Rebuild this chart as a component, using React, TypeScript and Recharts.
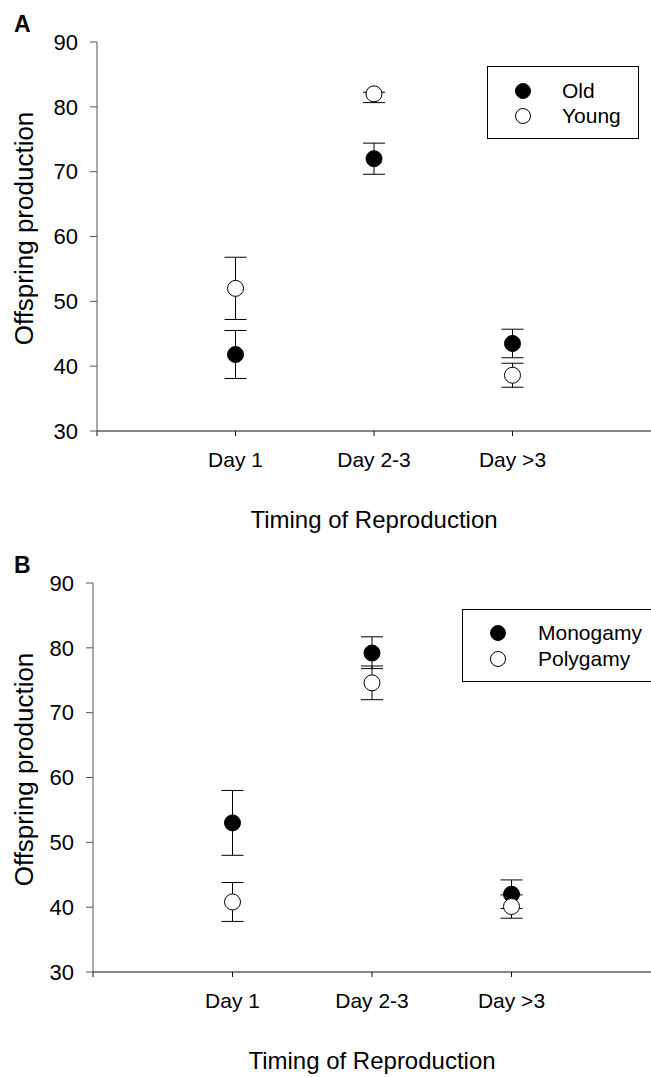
import { ScatterChart, Scatter, XAxis, YAxis, ErrorBar, Legend, Label } from "recharts"

const categories = ["Day 1", "Day 2-3", "Day >3"]
const yTicks = [30, 40, 50, 60, 70, 80, 90]

// panel A (lower / upper half of the error bars)
const oldMean = [41.8, 72.0, 43.5]
const oldLow = [3.7, 2.4, 2.2]
const oldHigh = [3.7, 2.4, 2.2]
const youngMean = [52.0, 82.0, 38.6]
const youngLow = [4.8, 1.35, 1.85]
const youngHigh = [4.8, 0.25, 1.85]

// panel B
const monoMean = [53.0, 79.2, 42.0]
const monoLow = [5.0, 2.4, 2.2]
const monoHigh = [5.0, 2.5, 2.2]
const polyMean = [40.8, 74.6, 40.1]
const polyLow = [3.0, 2.6, 1.8]
const polyHigh = [3.0, 2.6, 1.8]

const FONT = "'Liberation Sans', Arial, sans-serif"

const toRows = (means: number[], low: number[], high: number[]) =>
    means.map((m, i) => ({ x: i + 1, y: m, err: [low[i], high[i]] }))

const dot = (fill: string) => (props: any) => (
    <circle cx={props.cx} cy={props.cy} r={8} fill={fill} stroke="#000" strokeWidth={1} />
)
const noDot = () => <g />

function PanelLegend({ names, box }: { names: string[]; box: any }) {
    return (
        <div
            style={{
                width: box.width,
                height: box.height,
                border: "1px solid #000",
                boxSizing: "border-box",
                background: "#fff",
                fontFamily: FONT,
                fontSize: 21,
                color: "#000",
                paddingTop: box.padTop,
            }}
        >
            {names.map((n, i) => (
                <div key={n} style={{ display: "flex", alignItems: "center", height: box.rowH }}>
                    <svg width={box.markerW} height={18} style={{ flex: "none" }}>
                        <circle cx={box.markerW - 9} cy={9} r={7.5} fill={i === 0 ? "#000" : "#fff"} stroke="#000" />
                    </svg>
                    <span style={{ marginLeft: box.textGap }}>{n}</span>
                </div>
            ))}
        </div>
    )
}

function Panel({ letter, names, first, second, axisLeft, top, height, legendBox }: any) {
    const margin = { top, right: 0, left: axisLeft - 60, bottom: height - top - 389 - 100 }

    const yTitle = (p: any) => {
        const vb = p.viewBox
        return (
            <text
                transform={`translate(${24}, ${vb.y + vb.height / 2 - 8}) rotate(-90)`}
                textAnchor="middle"
                dominantBaseline="central"
                fontSize={26}
                fontFamily={FONT}
                fill="#000"
            >
                Offspring production
            </text>
        )
    }
    const xTitle = (p: any) => {
        const vb = p.viewBox
        return (
            <text x={vb.x + vb.width / 2} y={vb.y + 97} textAnchor="middle" fontSize={24} fontFamily={FONT} fill="#000">
                Timing of Reproduction
            </text>
        )
    }

    // the overlay chart uses the same scales but draws no axes, so markers sit above the error bars
    const ghostX = <XAxis type="number" dataKey="x" domain={[0, 4]} height={100} tick={false} tickLine={false} axisLine={false} />
    const ghostY = <YAxis type="number" dataKey="y" domain={[30, 90]} width={60} tick={false} tickLine={false} axisLine={false} />

    return (
        <div style={{ position: "relative", width: 651, height }}>
            <ScatterChart width={651} height={height} margin={margin}>
                <XAxis
                    type="number"
                    dataKey="x"
                    domain={[0, 4]}
                    ticks={[0, 1, 2, 3]}
                    tickFormatter={(v: number) => categories[v - 1] ?? ""}
                    height={100}
                    tickSize={5}
                    tickMargin={16}
                    stroke="#111"
                    tick={{ fill: "#000", fontSize: 21, fontFamily: FONT }}
                    interval={0}
                >
                    <Label content={xTitle} />
                </XAxis>
                <YAxis
                    type="number"
                    dataKey="y"
                    domain={[30, 90]}
                    ticks={yTicks}
                    width={60}
                    tickSize={7}
                    tickMargin={12}
                    stroke="#555"
                    tick={{ fill: "#000", fontSize: 22, fontFamily: FONT }}
                    interval={0}
                >
                    <Label content={yTitle} />
                </YAxis>
                <Scatter name={names[0]} data={first} shape={noDot} isAnimationActive={false}>
                    <ErrorBar dataKey="err" direction="y" width={11} stroke="#000" strokeWidth={1} isAnimationActive={false} />
                </Scatter>
                <Scatter name={names[1]} data={second} shape={noDot} isAnimationActive={false}>
                    <ErrorBar dataKey="err" direction="y" width={11} stroke="#000" strokeWidth={1} isAnimationActive={false} />
                </Scatter>
            </ScatterChart>

            <div style={{ position: "absolute", left: 0, top: 0 }}>
                <ScatterChart width={651} height={height} margin={margin}>
                    {ghostX}
                    {ghostY}
                    <Legend
                        layout="vertical"
                        align="center"
                        verticalAlign="middle"
                        wrapperStyle={{ left: legendBox.left, top: legendBox.top, width: legendBox.width, height: legendBox.height }}
                        content={() => <PanelLegend names={names} box={legendBox} />}
                    />
                    <Scatter name={names[0]} data={first} shape={dot("#000")} isAnimationActive={false} />
                    <Scatter name={names[1]} data={second} shape={dot("#fff")} isAnimationActive={false} />
                </ScatterChart>
            </div>

            <div style={{ position: "absolute", left: 14, top: top - 31, fontFamily: FONT, fontWeight: "bold", fontSize: 23 }}>
                {letter}
            </div>
        </div>
    )
}

export default function App() {
    return (
        <div style={{ position: "absolute", left: 0, top: 0, width: 651, height: 1077, overflow: "hidden", background: "#fff" }}>
            <Panel
                letter="A"
                names={["Old", "Young"]}
                first={toRows(oldMean, oldLow, oldHigh)}
                second={toRows(youngMean, youngLow, youngHigh)}
                axisLeft={97}
                top={42}
                height={540}
                legendBox={{ left: 487, top: 66, width: 152, height: 73, padTop: 11, rowH: 25, markerW: 44, textGap: 30 }}
            />
            <Panel
                letter="B"
                names={["Monogamy", "Polygamy"]}
                first={toRows(monoMean, monoLow, monoHigh)}
                second={toRows(polyMean, polyLow, polyHigh)}
                axisLeft={93}
                top={43}
                height={537}
                legendBox={{ left: 462, top: 69, width: 196, height: 73, padTop: 10, rowH: 26, markerW: 44, textGap: 31 }}
            />
        </div>
    )
}
